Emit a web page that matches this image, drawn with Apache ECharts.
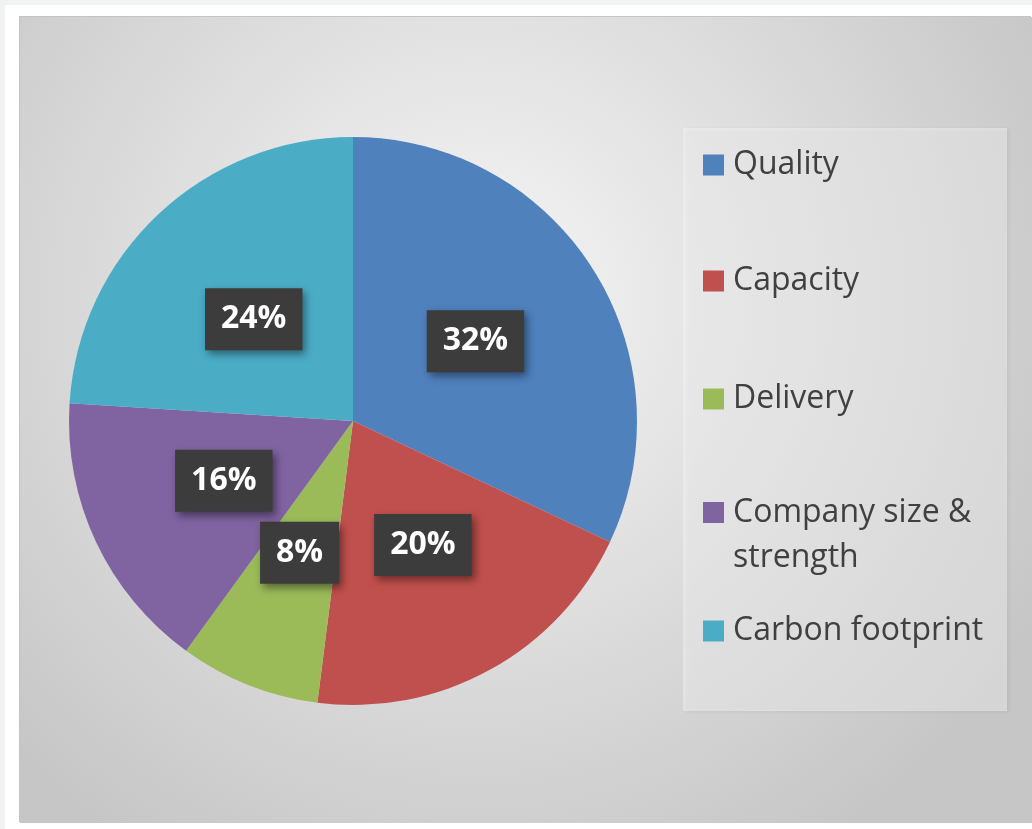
<!DOCTYPE html>
<html>
<head>
<meta charset="utf-8">
<script src="https://cdn.jsdelivr.net/npm/echarts@6/dist/echarts.min.js"></script>
<style>
  html, body { margin: 0; padding: 0; width: 1032px; height: 829px; background: #f1f2f4; overflow: hidden; }
  #frame { position: absolute; left: 5px; top: 5px; right: 0; bottom: 0; background: #ffffff; }
  #chart { position: absolute; left: 20px; top: 17px; width: 1012px; height: 806px; box-shadow: -1px -1px 0 #c4c4c4; }
</style>
</head>
<body>
<div id="frame"></div>
<div id="chart"></div>
<script>
const categories = ['Quality', 'Capacity', 'Delivery', 'Company size & strength', 'Carbon footprint'];
const values = [32, 20, 8, 16, 24];
const colors = ['#4f81bd', '#c0504d', '#9bbb59', '#8064a2', '#4bacc6'];

const chart = echarts.init(document.getElementById('chart'), null, { renderer: 'canvas' });

const legendTops = [130, 246, 364, 428, 596];
const legends = categories.map((name, i) => {
  const multi = name === 'Company size & strength';
  return {
    data: [name],
    orient: 'vertical',
    left: 683,
    top: legendTops[i],
    padding: 0,
    itemWidth: 21,
    itemHeight: 21,
    icon: 'rect',
    selectedMode: false,
    formatter: multi ? () => '\u00a0\nCompany size &\nstrength' : '{name}',
    textStyle: {
      fontFamily: '"Open Sans", sans-serif',
      fontSize: 32,
      color: '#404040',
      lineHeight: multi ? 45 : 36,
      padding: [0, 0, 0, 4]
    }
  };
});

const labelOffsets = [[0, -2], [0, -3], [0, -3], [2, -2], [0, 4]];

chart.setOption({
  animation: false,
  backgroundColor: {
    type: 'radial', x: 0.45, y: 0.35, r: 0.8,
    colorStops: [
      { offset: 0, color: '#f6f6f6' },
      { offset: 1, color: '#c6c6c6' }
    ]
  },
  color: colors,
  graphic: [{
    type: 'rect',
    shape: { x: 663, y: 111, width: 324, height: 583 },
    style: {
      fill: 'rgba(255,255,255,0.4)',
      shadowBlur: 4, shadowOffsetX: 2, shadowOffsetY: 1,
      shadowColor: 'rgba(0,0,0,0.15)'
    },
    z: 0
  }],
  legend: legends,
  series: [{
    type: 'pie',
    center: [333, 404],
    radius: 284,
    startAngle: 90,
    clockwise: true,
    itemStyle: { borderWidth: 0 },
    label: {
      show: true,
      position: 'inside',
      formatter: '{c}%',
      fontFamily: '"Open Sans", sans-serif',
      fontWeight: 'bold',
      fontSize: 32,
      lineHeight: 32,
      color: '#ffffff',
      backgroundColor: '#3c3c3c',
      padding: [15, 16, 15, 16],
      shadowBlur: 8,
      shadowOffsetX: 3,
      shadowOffsetY: 4,
      shadowColor: 'rgba(0,0,0,0.45)'
    },
    labelLine: { show: false },
    emphasis: { disabled: true },
    data: categories.map((name, i) => ({
      name: name,
      value: values[i],
      label: { offset: labelOffsets[i] }
    }))
  }]
});
</script>
</body>
</html>
